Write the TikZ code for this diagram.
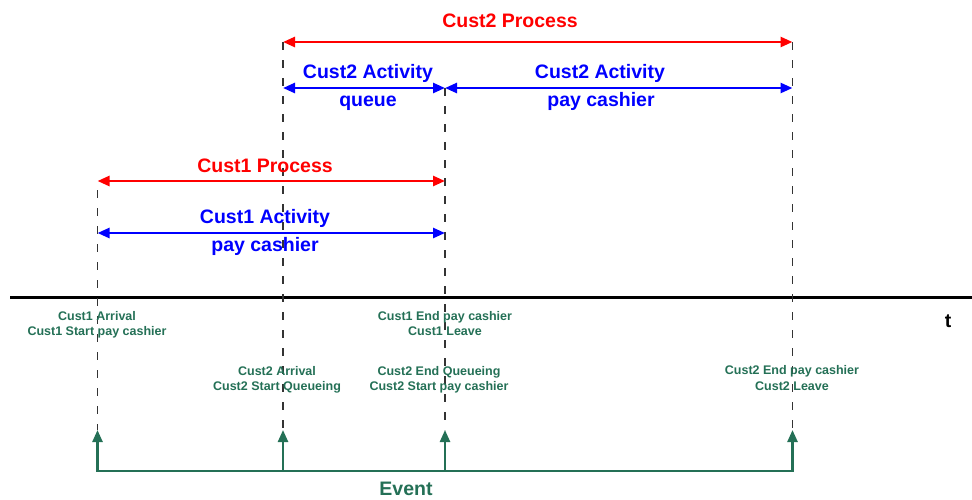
\documentclass[tikz,border=0pt]{standalone}
\usepackage{fontspec}
\setmainfont{Liberation Sans}
\usetikzlibrary{arrows.meta}
\definecolor{eventgreen}{RGB}{36,112,86}

\begin{document}
\begin{tikzpicture}[
  x=1pt,
  y=-1pt,
  big label/.style={
    anchor=base,
    inner sep=0pt,
    font=\fontsize{19.5}{23}\selectfont\bfseries
  },
  process label/.style={
    big label,
    red
  },
  activity label/.style={
    big label,
    blue
  },
  event label/.style={
    align=center,
    inner sep=0pt,
    eventgreen,
    font=\fontsize{12.5}{15.5}\selectfont\bfseries
  },
  span/.style={
    line width=2.6pt,
    {Triangle[length=12pt,width=10pt]}-{Triangle[length=12pt,width=10pt]}
  },
  process span/.style={
    span,
    red
  },
  activity span/.style={
    span,
    blue
  },
  time cut/.style={
    black!80,
    line width=1.4pt,
    dash pattern=on 8pt off 10pt
  },
  event arrow/.style={
    eventgreen,
    line width=2.4pt,
    -{Triangle[length=12pt,width=10pt]}
  },
]
\useasboundingbox (0,0) rectangle (972,499);

% time axis
\coordinate (t0) at (10,297);
\coordinate (t1) at (972,297);
\draw[line width=3pt] (t0) -- (t1);
\node[big label] (tname) at (948,327) {t};

% event instants
\coordinate (top1) at (97.5,190);
\coordinate (top2) at (283,42);
\coordinate (top3) at (445,88);
\coordinate (top4) at (792.5,42);
\foreach \x [count=\i] in {97.5,283,445,792.5}{
  \coordinate (tip\i) at (\x,430);
  \coordinate (foot\i) at (\x,471);
  \draw[time cut] (top\i) -- (tip\i);
  \draw[event arrow] (foot\i) -- (tip\i);
}
\draw[eventgreen,line width=2.4pt,line cap=rect] (foot1) -- (foot4);
\node[big label,eventgreen] (evname) at (406,495) {Event};

% processes and activities
\coordinate (p1a) at (97.5,181);
\coordinate (p1b) at (445,181);
\coordinate (a1a) at (97.5,233);
\coordinate (a1b) at (445,233);
\draw[process span] (top2) -- (top4);
\draw[activity span] (top2 |- top3) -- (top3);
\draw[activity span] (top3) -- (top4 |- top3);
\draw[process span] (p1a) -- (p1b);
\draw[activity span] (a1a) -- (a1b);

\node[process label] (proc2) at (510,27) {Cust2 Process};
\node[activity label] (act2q) at (368,78.5) {Cust2 Activity};
\node[activity label] (act2qname) at (368,106.5) {queue};
\node[activity label] (act2p) at (600,78.5) {Cust2 Activity};
\node[activity label] (act2pname) at (601,106.5) {pay cashier};
\node[process label] (proc1) at (265,172) {Cust1 Process};
\node[activity label] (act1) at (265,223) {Cust1 Activity};
\node[activity label] (act1name) at (265,251.5) {pay cashier};

% event texts
\node[event label] (ev1) at (97,325) {Cust1 Arrival\\Cust1 Start pay cashier};
\node[event label] (ev2) at (277,380) {Cust2 Arrival\\Cust2 Start Queueing};
\node[event label] (ev3) at (445,323.5) {Cust1 End pay cashier\\Cust1 Leave};
\node[event label] (ev4) at (439,380) {Cust2 End Queueing\\Cust2 Start pay cashier};
\node[event label] (ev5) at (792,378) {Cust2 End pay cashier\\Cust2 Leave};
\end{tikzpicture}
\end{document}
